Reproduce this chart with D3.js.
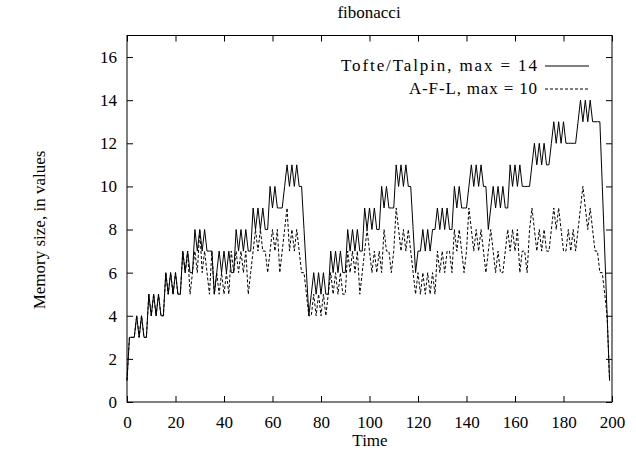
<!DOCTYPE html>
<html>
<head>
<meta charset="utf-8">
<script src="https://cdn.jsdelivr.net/npm/d3@7/dist/d3.min.js"></script>
<style>
    body { margin: 0; background: #fff; }
    text { font-family: "Liberation Serif", "Times New Roman", serif; font-size: 17px; fill: #000; }
</style>
</head>
<body>
<div class="chart"></div>
<script>
var title = "fibonacci";
var xLabel = "Time";
var yLabel = "Memory size, in values";
var seriesNames = ["Tofte/Talpin, max = 14", "A-F-L, max = 10"];
var xTicks = [0, 20, 40, 60, 80, 100, 120, 140, 160, 180, 200];
var yTicks = [0, 2, 4, 6, 8, 10, 12, 14, 16];

// memory size at each time step (index = time)
var tofteTalpin = [
    1, 3, 3, 3, 4, 3, 4, 3, 3, 5,
    4, 5, 4, 5, 4, 4, 6, 5, 6, 5,
    6, 5, 5, 7, 6, 7, 6, 6, 8, 7,
    8, 7, 8, 7, 7, 7, 5, 6, 7, 6,
    7, 6, 7, 6, 6, 8, 7, 8, 7, 8,
    7, 7, 9, 8, 9, 8, 9, 8, 8, 10,
    9, 10, 9, 9, 9, 10, 11, 10, 11, 10,
    11, 10, 10, 8, 6, 4, 5, 6, 5, 6,
    5, 6, 5, 5, 7, 6, 7, 6, 7, 6,
    6, 8, 7, 8, 7, 8, 7, 7, 9, 8,
    9, 8, 9, 8, 8, 10, 9, 10, 9, 9,
    9, 11, 10, 11, 10, 11, 10, 10, 8, 6,
    7, 7, 8, 7, 8, 7, 8, 8, 9, 8,
    9, 8, 9, 8, 8, 10, 9, 10, 9, 9,
    9, 10, 11, 10, 11, 10, 11, 10, 10, 8,
    9, 10, 9, 10, 9, 10, 9, 9, 11, 10,
    11, 10, 11, 10, 10, 10, 10, 11, 12, 11,
    12, 11, 12, 11, 11, 12, 13, 12, 13, 12,
    13, 12, 12, 12, 12, 12, 13, 14, 13, 14,
    13, 14, 13, 13, 13, 13, 10, 7, 4, 1
];
var afl = [
    1, 3, 3, 3, 4, 3, 4, 3, 3, 5,
    4, 5, 4, 5, 4, 4, 6, 5, 6, 5,
    6, 5, 5, 7, 6, 7, 5, 6, 7, 6,
    8, 6, 7, 6, 5, 7, 5, 6, 5, 6,
    5, 6, 5, 7, 6, 7, 6, 7, 6, 7,
    5, 6, 7, 8, 7, 8, 7, 7, 6, 7,
    8, 7, 8, 6, 7, 8, 9, 7, 8, 7,
    8, 7, 6, 6, 5, 4, 4, 5, 4, 5,
    4, 5, 4, 5, 6, 5, 6, 5, 6, 5,
    5, 7, 6, 7, 6, 7, 5, 6, 7, 8,
    7, 6, 7, 6, 7, 6, 8, 7, 7, 6,
    7, 9, 8, 7, 8, 7, 8, 7, 6, 5,
    6, 5, 6, 5, 6, 5, 6, 5, 7, 6,
    7, 6, 7, 7, 6, 8, 7, 8, 7, 6,
    7, 9, 8, 7, 8, 7, 8, 7, 6, 7,
    8, 7, 6, 7, 6, 6, 7, 8, 7, 8,
    7, 8, 6, 7, 7, 6, 8, 9, 8, 7,
    8, 7, 8, 7, 7, 8, 9, 8, 9, 8,
    7, 7, 8, 7, 8, 7, 8, 9, 10, 9,
    8, 9, 8, 7, 7, 6, 6, 5, 4, 1
];

var width = 636, height = 455;
var plotLeft = 127, plotRight = 612, plotTop = 35.5, plotBottom = 402;

var x = d3.scaleLinear().domain([0, 200]).range([plotLeft, plotRight]);
var y = d3.scaleLinear().domain([0, 17]).range([plotBottom, plotTop]);

var svg = d3.select('.chart')
    .append('svg')
    .attr('width', width)
    .attr('height', height);

// axes, ticks pointing inward on all four sides
svg.append('g')
    .attr('transform', 'translate(0,' + plotBottom + ')')
    .call(d3.axisBottom(x).tickValues(xTicks).tickSize(-6).tickPadding(14).tickFormat(d3.format('d')));
svg.append('g')
    .attr('transform', 'translate(0,' + plotTop + ')')
    .call(d3.axisTop(x).tickValues(xTicks).tickSize(-6).tickFormat(''));
svg.append('g')
    .attr('transform', 'translate(' + plotLeft + ',0)')
    .call(d3.axisLeft(y).tickValues(yTicks).tickSize(-6).tickPadding(10).tickFormat(d3.format('d')));
svg.append('g')
    .attr('transform', 'translate(' + plotRight + ',0)')
    .call(d3.axisRight(y).tickValues(yTicks).tickSize(-6).tickFormat(''));

svg.selectAll('.domain').remove();
svg.selectAll('.tick line').attr('stroke', '#000');
svg.selectAll('.tick text')
    .style('font-family', '"Liberation Serif", serif')
    .style('font-size', '17px');

svg.append('rect')
    .attr('x', plotLeft)
    .attr('y', plotTop)
    .attr('width', plotRight - plotLeft)
    .attr('height', plotBottom - plotTop)
    .attr('fill', 'none')
    .attr('stroke', '#000');

var line = d3.line()
    .x(function (d, i) {
        return x(i);
    })
    .y(function (d) {
        return y(d);
    });

svg.append('path')
    .datum(tofteTalpin)
    .attr('d', line)
    .attr('fill', 'none')
    .attr('stroke', '#000')
    .attr('stroke-width', 1);

svg.append('path')
    .datum(afl)
    .attr('d', line)
    .attr('fill', 'none')
    .attr('stroke', '#000')
    .attr('stroke-width', 1)
    .attr('stroke-dasharray', '3,2');

// legend
var legend = svg.append('g').attr('class', 'legend');
var dashes = [null, '3,2'];
var legendWidths = [196, 128];
seriesNames.forEach(function (name, i) {
    var ly = 66 + i * 23;
    legend.append('text')
        .attr('x', 537)
        .attr('y', ly)
        .attr('dy', '0.32em')
        .attr('text-anchor', 'end')
        .attr('textLength', legendWidths[i])
        .attr('lengthAdjust', 'spacing')
        .text(name);
    legend.append('line')
        .attr('x1', 545)
        .attr('x2', 589)
        .attr('y1', ly)
        .attr('y2', ly)
        .attr('stroke', '#000')
        .attr('stroke-dasharray', dashes[i]);
});

// title and axis labels
svg.append('text')
    .attr('x', 369)
    .attr('y', 18)
    .attr('text-anchor', 'middle')
    .text(title);
svg.append('text')
    .attr('x', 370)
    .attr('y', 446)
    .attr('text-anchor', 'middle')
    .text(xLabel);
svg.append('text')
    .attr('transform', 'translate(45,230) rotate(-90)')
    .attr('text-anchor', 'middle')
    .text(yLabel);
</script>
</body>
</html>
